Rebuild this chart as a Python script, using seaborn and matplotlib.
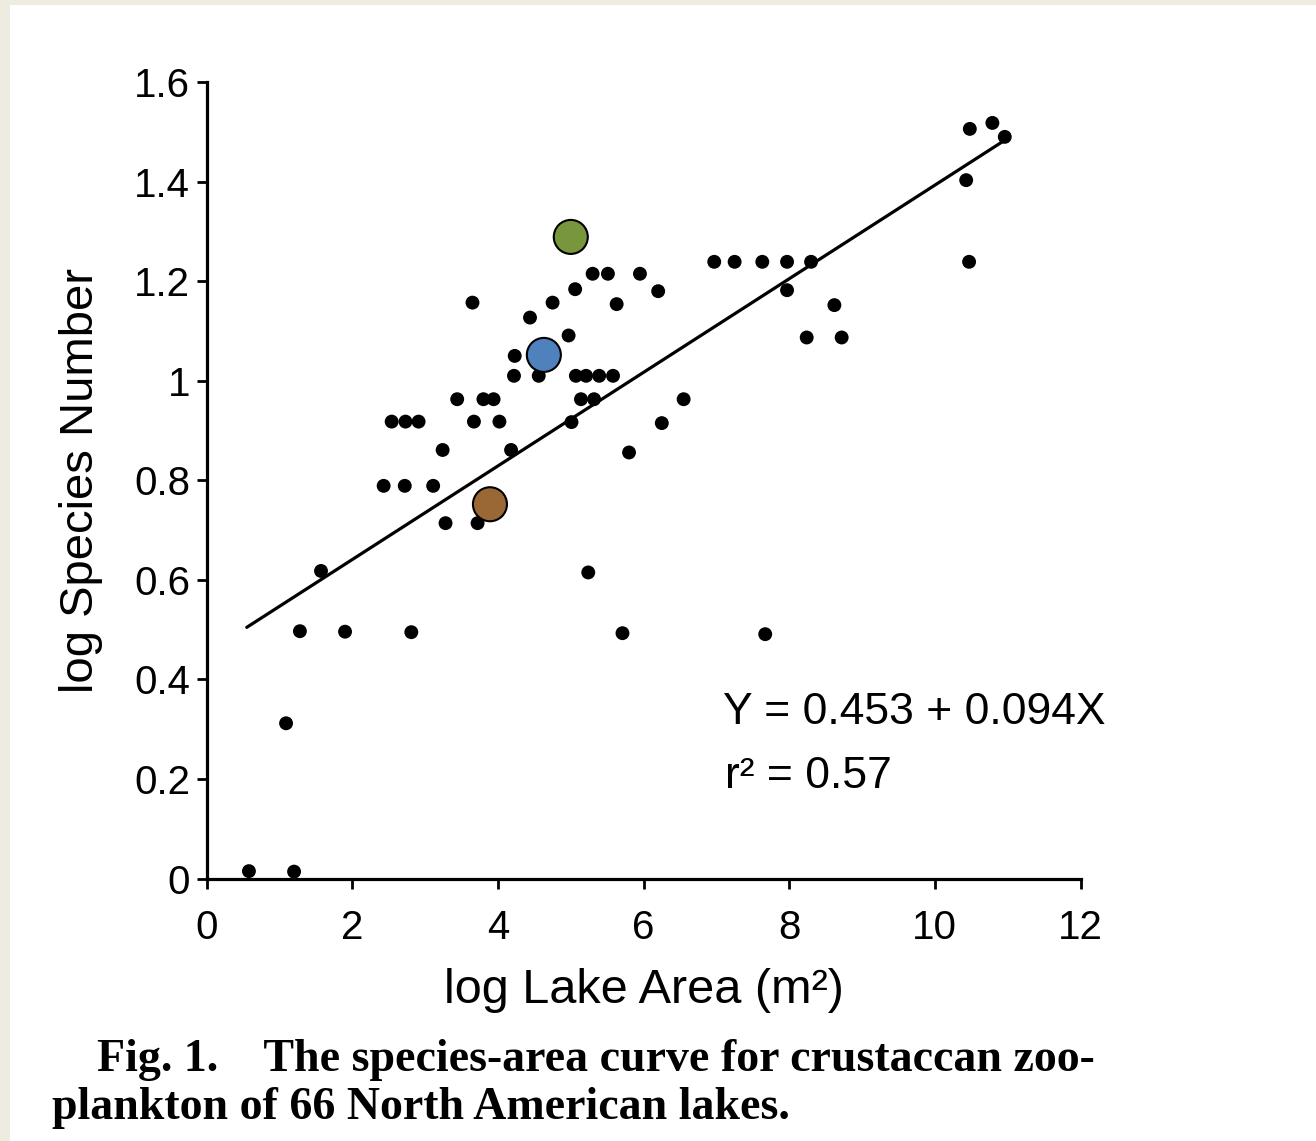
import matplotlib
matplotlib.use("Agg")
import matplotlib.pyplot as plt
import seaborn as sns
import numpy as np
import pandas as pd
from matplotlib.patches import Rectangle

# ---------------- data ----------------
lake_area = [0.58, 1.20, 1.09, 1.28, 1.90, 2.81, 1.57, 5.71, 7.67, 5.24,
             3.28, 3.72, 2.43, 2.72, 3.11, 3.24, 2.54, 2.73, 2.91, 3.67,
             4.02, 5.01, 3.44, 3.80, 3.94, 5.14, 5.32, 4.18, 5.80, 4.22,
             4.56, 5.07, 5.21, 5.39, 5.58, 4.23, 4.48, 4.97, 4.44, 3.65,
             4.75, 5.06, 5.30, 5.51, 5.95, 5.63, 6.20, 6.55, 6.25, 6.97,
             7.25, 7.63, 7.97, 8.30, 10.47, 7.97, 8.62, 8.24, 8.72, 10.48,
             10.79, 10.96, 10.43]
species = [0.015, 0.014, 0.312, 0.497, 0.496, 0.495, 0.618, 0.493, 0.491, 0.615,
           0.714, 0.714, 0.789, 0.789, 0.789, 0.861, 0.918, 0.918, 0.918, 0.918,
           0.918, 0.917, 0.963, 0.963, 0.963, 0.963, 0.963, 0.861, 0.856, 1.010,
           1.010, 1.010, 1.010, 1.010, 1.010, 1.050, 1.050, 1.091, 1.127, 1.157,
           1.157, 1.184, 1.215, 1.215, 1.215, 1.154, 1.180, 0.963, 0.915, 1.239,
           1.239, 1.239, 1.239, 1.239, 1.239, 1.182, 1.152, 1.087, 1.087, 1.506,
           1.518, 1.490, 1.403]

highlight_x = [5.00, 4.63, 3.89]
highlight_y = [1.289, 1.052, 0.752]
highlight_colors = ["#78963C", "#4F81BD", "#9A6834"]

intercept = 0.453
slope = 0.094
line_x = [0.55, 10.95]

x_ticks = [0, 2, 4, 6, 8, 10, 12]
y_ticks = [0, 0.2, 0.4, 0.6, 0.8, 1.0, 1.2, 1.4, 1.6]
y_tick_labels = ["0", "0.2", "0.4", "0.6", "0.8", "1", "1.2", "1.4", "1.6"]

x_label = "log Lake Area (m²)"
y_label = "log Species Number"
eq_text = "Y = 0.453 + 0.094X"
r2_text = "r² = 0.57"
caption1 = "Fig. 1.    The species-area curve for crustaccan zoo-"
caption2 = "plankton of 66 North American lakes."

# ---------------- figure ----------------
sns.set_theme(style="ticks")
plt.rcParams["font.family"] = ["Liberation Sans", "DejaVu Sans"]

W, H = 1316, 1141
fig = plt.figure(figsize=(W / 100, H / 100), dpi=100)
fig.patch.set_facecolor("#EEECE1")
fig.patches.append(Rectangle((10 / W, 0), 1 - 10 / W, 1 - 5 / H,
                             transform=fig.transFigure, facecolor="white",
                             edgecolor="none", zorder=-10))

x0, x1 = 206.7, 1080.5
y0, y1 = 878.6, 82.1
ax = fig.add_axes([x0 / W, 1 - y0 / H, (x1 - x0) / W, (y0 - y1) / H])
ax.set_facecolor("none")

df = pd.DataFrame({"area": lake_area, "species": species})
sns.scatterplot(data=df, x="area", y="species", ax=ax, color="black",
                s=100, edgecolor="none", zorder=3, legend=False)

line_df = pd.DataFrame({"x": line_x,
                        "y": [intercept + slope * v for v in line_x]})
sns.lineplot(data=line_df, x="x", y="y", ax=ax, color="black",
             linewidth=2.3, zorder=2)

hl = pd.DataFrame({"x": highlight_x, "y": highlight_y, "c": highlight_colors})
sns.scatterplot(data=hl, x="x", y="y", hue="c", palette={c: c for c in highlight_colors},
                ax=ax, s=600, edgecolor="black", linewidth=1.5, zorder=4, legend=False)

ax.set_xlim(0, 12)
ax.set_ylim(0, 1.6)
ax.set_xticks(x_ticks)
ax.set_xticklabels([str(t) for t in x_ticks])
ax.set_yticks(y_ticks)
ax.set_yticklabels(y_tick_labels)
ax.tick_params(axis="both", direction="out", length=7, width=2, colors="black",
               labelsize=29)
ax.tick_params(axis="x", pad=15)
ax.tick_params(axis="y", pad=5)
for side in ["top", "right"]:
    ax.spines[side].set_visible(False)
for side in ["left", "bottom"]:
    ax.spines[side].set_linewidth(2.3)
    ax.spines[side].set_color("black")

ax.set_xlabel(x_label, fontsize=35, labelpad=15, color="black")
ax.set_ylabel(y_label, fontsize=34, labelpad=22, color="black")

fig.text(723 / W, 1 - 713 / H, eq_text, fontsize=32, va="center", ha="left",
         color="black")
fig.text(725 / W, 1 - 776 / H, r2_text, fontsize=32, va="center", ha="left",
         color="black")

fig.text(97 / W, 1 - 1060 / H, caption1, fontsize=33, va="center", ha="left",
         family=["Liberation Serif", "DejaVu Serif"], weight="bold", color="black")
fig.text(52 / W, 1 - 1108 / H, caption2, fontsize=33, va="center", ha="left",
         family=["Liberation Serif", "DejaVu Serif"], weight="bold", color="black")

fig.savefig("out.png", dpi=100, facecolor=fig.get_facecolor())
